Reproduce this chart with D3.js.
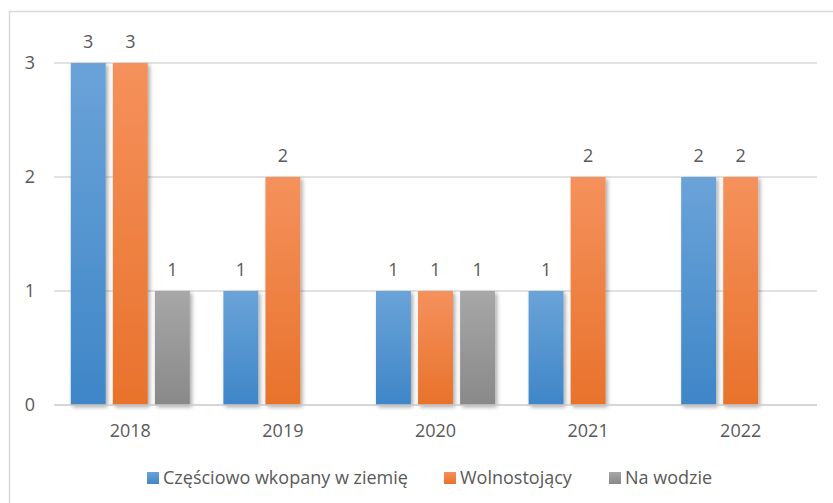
<!DOCTYPE html>
<html>
<head>
<meta charset="utf-8">
<script src="https://cdn.jsdelivr.net/npm/d3@7"></script>
<style>
  body { margin: 0; background: #fff; }
  text { font-family: "Open Sans", "Noto Sans", sans-serif; fill: #595959; }
</style>
</head>
<body>
<script>
// data
var years = ['2018', '2019', '2020', '2021', '2022'];
var seriesNames = ['Częściowo wkopany w ziemię', 'Wolnostojący', 'Na wodzie'];
var partly = [3, 1, 1, 1, 2];
var freeStanding = [3, 2, 1, 2, 2];
var onWater = [1, null, 1, null, null];
var yTicks = [0, 1, 2, 3];

var width = 833, height = 503;
var margin = {left: 54, right: 16, top: 63, bottom: 98};

var colors = [
  {top: '#6aa3d8', bottom: '#3f86c8'},
  {top: '#f5915c', bottom: '#e8722b'},
  {top: '#a7a7a7', bottom: '#898989'}
];

var svg = d3.select('body').append('svg')
    .attr('width', width)
    .attr('height', height);

var defs = svg.append('defs');
colors.forEach(function(c, i) {
  var g = defs.append('linearGradient')
      .attr('id', 'grad' + i)
      .attr('x1', 0).attr('y1', 0).attr('x2', 0).attr('y2', 1);
  g.append('stop').attr('offset', '0%').attr('stop-color', c.top);
  g.append('stop').attr('offset', '100%').attr('stop-color', c.bottom);
});

// soft shadow like the office chart
var f = defs.append('filter').attr('id', 'shadow')
    .attr('x', '-30%').attr('y', '-10%').attr('width', '160%').attr('height', '120%');
f.append('feGaussianBlur').attr('in', 'SourceAlpha').attr('stdDeviation', 2.2).attr('result', 'blur');
f.append('feOffset').attr('in', 'blur').attr('dx', 1.5).attr('dy', 1.5).attr('result', 'off');
f.append('feComponentTransfer').attr('in', 'off').attr('result', 'faded')
  .append('feFuncA').attr('type', 'linear').attr('slope', 0.35);
var merge = f.append('feMerge');
merge.append('feMergeNode').attr('in', 'faded');
merge.append('feMergeNode').attr('in', 'SourceGraphic');

// chart area border (only top and left are in frame)
svg.append('path')
    .attr('d', 'M9.5,' + (height + 2) + 'V11.5H' + (width + 2))
    .attr('fill', 'none')
    .attr('stroke', '#d9d9d9')
    .attr('stroke-width', 1.5);

var x = d3.scaleBand()
    .domain(years)
    .range([margin.left, width - margin.right])
    .paddingInner(0.22)
    .paddingOuter(0.11);

var x1 = d3.scaleBand()
    .domain(d3.range(3))
    .range([0, x.bandwidth()])
    .paddingInner(0.17);

var y = d3.scaleLinear()
    .domain([0, 3])
    .range([height - margin.bottom, margin.top]);

// gridlines
svg.append('g')
    .selectAll('line')
    .data(yTicks.slice(1))
    .enter()
    .append('line')
    .attr('x1', margin.left)
    .attr('x2', width - margin.right)
    .attr('y1', function(d) { return y(d); })
    .attr('y2', function(d) { return y(d); })
    .attr('stroke', '#d9d9d9')
    .attr('stroke-width', 1.3);

// y labels
svg.append('g')
    .selectAll('text')
    .data(yTicks)
    .enter()
    .append('text')
    .attr('x', 35)
    .attr('y', function(d) { return y(d); })
    .attr('dy', '0.35em')
    .attr('text-anchor', 'end')
    .style('font-size', '18px')
    .text(function(d) { return d; });

var series = [partly, freeStanding, onWater];
var barData = [];
series.forEach(function(vals, s) {
  vals.forEach(function(v, i) {
    if (v !== null) barData.push({year: years[i], s: s, value: v});
  });
});

svg.append('g')
    .selectAll('rect')
    .data(barData)
    .enter()
    .append('rect')
    .attr('x', function(d) { return x(d.year) + x1(d.s); })
    .attr('y', function(d) { return y(d.value); })
    .attr('width', x1.bandwidth())
    .attr('height', function(d) { return y(0) - y(d.value); })
    .attr('fill', function(d) { return 'url(#grad' + d.s + ')'; })
    .attr('filter', 'url(#shadow)');

// x axis line
svg.append('line')
    .attr('x1', margin.left)
    .attr('x2', width - margin.right)
    .attr('y1', y(0))
    .attr('y2', y(0))
    .attr('stroke', '#c8c8c8')
    .attr('stroke-width', 1.5);

// value labels
svg.append('g')
    .selectAll('text')
    .data(barData)
    .enter()
    .append('text')
    .attr('x', function(d) { return x(d.year) + x1(d.s) + x1.bandwidth() / 2; })
    .attr('y', function(d) { return y(d.value) - 15; })
    .attr('text-anchor', 'middle')
    .style('font-size', '18px')
    .text(function(d) { return d.value; });

// category labels
svg.append('g')
    .selectAll('text')
    .data(years)
    .enter()
    .append('text')
    .attr('x', function(d) { return x(d) + x.bandwidth() / 2; })
    .attr('y', y(0) + 32)
    .attr('text-anchor', 'middle')
    .style('font-size', '18px')
    .text(function(d) { return d; });

// legend
var legendX = [147, 444, 609];
var legend = svg.append('g')
    .selectAll('g')
    .data(seriesNames)
    .enter()
    .append('g')
    .attr('transform', function(d, i) { return 'translate(' + legendX[i] + ',472)'; });

legend.append('rect')
    .attr('width', 12)
    .attr('height', 12)
    .attr('fill', function(d, i) { return 'url(#grad' + i + ')'; });

legend.append('text')
    .attr('x', 16)
    .attr('y', 12)
    .style('font-size', '18px')
    .text(function(d) { return d; });
</script>
</body>
</html>
